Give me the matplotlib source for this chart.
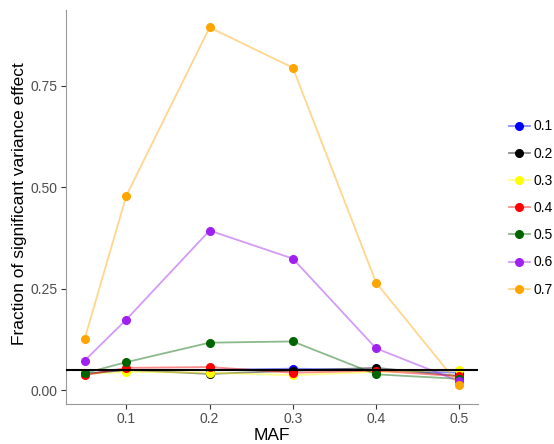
import matplotlib
matplotlib.use("Agg")
import matplotlib.pyplot as plt
from matplotlib.colors import to_rgba

plt.rcParams['font.family'] = ['Liberation Sans', 'DejaVu Sans']

maf = [0.05, 0.1, 0.2, 0.3, 0.4, 0.5]
groups = ["0.1", "0.2", "0.3", "0.4", "0.5", "0.6", "0.7"]
colors = ["blue", "black", "yellow", "red", "darkgreen", "#A020F0", "orange"]
values = {
    "0.1": [0.040, 0.050, 0.050, 0.053, 0.050, 0.043],
    "0.2": [0.040, 0.050, 0.040, 0.048, 0.055, 0.035],
    "0.3": [0.040, 0.045, 0.043, 0.037, 0.045, 0.049],
    "0.4": [0.037, 0.055, 0.057, 0.043, 0.048, 0.034],
    "0.5": [0.042, 0.069, 0.117, 0.120, 0.039, 0.028],
    "0.6": [0.073, 0.174, 0.393, 0.324, 0.103, 0.022],
    "0.7": [0.127, 0.479, 0.893, 0.794, 0.265, 0.012],
}
threshold = 0.05
xticks = [0.1, 0.2, 0.3, 0.4, 0.5]
yticks = [0.00, 0.25, 0.50, 0.75]

W, H = 554, 444
fig = plt.figure(figsize=(W / 100, H / 100), dpi=100)
ax = fig.add_axes([66 / W, 1 - 404 / H, (478 - 66) / W, (404 - 10) / H])

for g, c in zip(groups, colors):
    ax.plot(maf, values[g], color=to_rgba(c, 0.45), lw=1.3, zorder=2)
handles = []
for g, c in zip(groups, colors):
    ax.plot(maf, values[g], ls='none', marker='o', ms=5.5, mfc=c, mec=c, zorder=3)
    handles.append(plt.Line2D([], [], color=to_rgba(c, 0.45), lw=1.3, marker='o',
                              ms=5.5, mfc=c, mec=c))
ax.axhline(threshold, color='black', lw=1.5, zorder=4)

ax.set_xlim(0.0275, 0.5225)
ax.set_ylim(-0.034, 0.936)
ax.set_xticks(xticks)
ax.set_xticklabels([f"{v:.1f}" for v in xticks])
ax.set_yticks(yticks)
ax.set_yticklabels([f"{v:.2f}" for v in yticks])
for s in ['top', 'right']:
    ax.spines[s].set_visible(False)
for s in ['left', 'bottom']:
    ax.spines[s].set_color('#999999')
    ax.spines[s].set_linewidth(0.8)
ax.tick_params(colors='#333333', labelcolor='#4D4D4D', labelsize=10, length=3.5, width=0.8, pad=2.5)
fig.text(272 / W, 1 - 440 / H, "MAF", fontsize=12.5, color='black', ha='center', va='baseline')
fig.text(24 / W, 1 - 204 / H, "Fraction of significant variance effect", fontsize=12.5,
         color='black', ha='center', va='baseline', rotation=90, rotation_mode='anchor')

leg = fig.legend(handles, groups, loc='center left', bbox_to_anchor=(502 / W, 1 - 208 / H),
                 frameon=False, fontsize=10, handlelength=1.5, labelspacing=0.95,
                 handletextpad=0.25, borderpad=0)

fig.savefig("out.png", dpi=100)
